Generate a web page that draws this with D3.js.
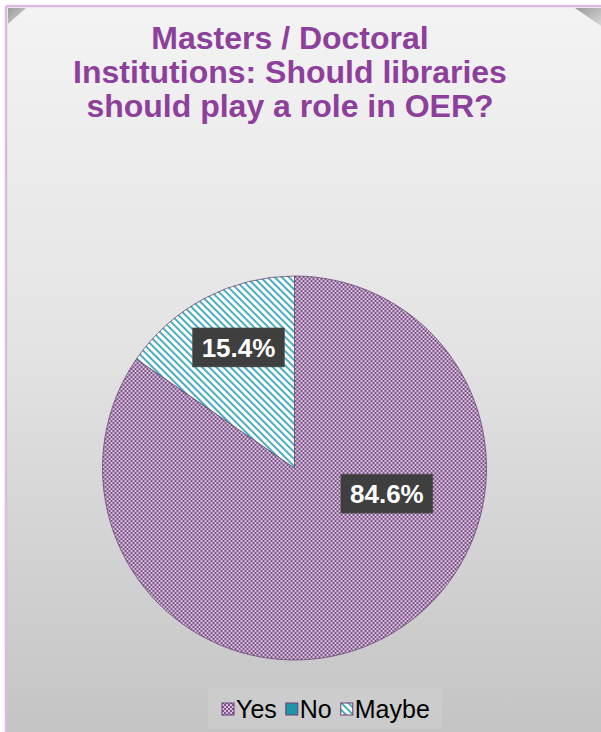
<!DOCTYPE html>
<html>
<head>
<meta charset="utf-8">
<script src="https://cdn.jsdelivr.net/npm/d3@7"></script>
<style>
  body { margin: 0; padding: 0; background: #ffffff; }
  svg { display: block; font-family: Arial, "Liberation Sans", sans-serif; }
</style>
</head>
<body>
<div id="chart"></div>
<script>
// chart data
const categories = ["Yes", "No", "Maybe"];
const shares = [84.6, 0, 15.4];
const titleLines = ["Masters / Doctoral", "Institutions: Should libraries", "should play a role in OER?"];

const W = 601, H = 732;
const svg = d3.select("#chart").append("svg")
    .attr("width", W)
    .attr("height", H);

let defs = svg.append("defs");

// background gradient
let bg = defs.append("linearGradient").attr("id", "bg")
    .attr("x1", 0).attr("y1", 0).attr("x2", 0).attr("y2", 1);
bg.append("stop").attr("offset", "0%").attr("stop-color", "#f3f3f3");
bg.append("stop").attr("offset", "45%").attr("stop-color", "#e4e4e4");
bg.append("stop").attr("offset", "100%").attr("stop-color", "#c4c4c4");

let corner = defs.append("linearGradient").attr("id", "corner")
    .attr("x1", 0).attr("y1", 0).attr("x2", 1).attr("y2", 1);
corner.append("stop").attr("offset", "0%").attr("stop-color", "#9a9a9a");
corner.append("stop").attr("offset", "100%").attr("stop-color", "#d8d8d8");

// Yes: small purple checker
let pYes = defs.append("pattern").attr("id", "pYes")
    .attr("patternUnits", "userSpaceOnUse").attr("width", 4).attr("height", 4);
pYes.append("rect").attr("width", 4).attr("height", 4).attr("fill", "#d6bedb");
pYes.append("rect").attr("width", 2).attr("height", 2).attr("fill", "#7e5689");
pYes.append("rect").attr("x", 2).attr("y", 2).attr("width", 2).attr("height", 2).attr("fill", "#7e5689");

// Maybe: teal diagonal stripes on white
let pMaybe = defs.append("pattern").attr("id", "pMaybe")
    .attr("patternUnits", "userSpaceOnUse").attr("width", 5).attr("height", 5)
    .attr("patternTransform", "rotate(-45)");
pMaybe.append("rect").attr("width", 5).attr("height", 5).attr("fill", "#ffffff");
pMaybe.append("rect").attr("width", 2).attr("height", 5).attr("fill", "#4aaec0");

const fills = {"Yes": "url(#pYes)", "No": "#1f95a8", "Maybe": "url(#pMaybe)"};

// frame
svg.append("rect").attr("x", 0).attr("y", 0).attr("width", W).attr("height", H).attr("fill", "#ffffff");
svg.append("rect").attr("x", 6).attr("y", 6).attr("width", W - 6).attr("height", H - 6)
    .attr("fill", "url(#bg)");
svg.append("path").attr("d", "M6,6H601").attr("stroke", "#dcb9e2").attr("stroke-width", 2.5);
svg.append("path").attr("d", "M6,6V732").attr("stroke", "#dcb9e2").attr("stroke-width", 2.5);
svg.append("path").attr("d", "M8,8L26,8L8,24Z").attr("fill", "url(#corner)");
svg.append("path").attr("d", "M575,8L601,8L601,26Z").attr("fill", "url(#corner)");

// title
svg.append("g").selectAll("text").data(titleLines).enter().append("text")
    .attr("x", 290)
    .attr("y", (d, i) => 49 + i * 34)
    .attr("text-anchor", "middle")
    .style("font-size", "32px")
    .style("font-weight", "bold")
    .attr("fill", "#8d3f9b")
    .text(d => d);

// pie
const cx = 294.5, cy = 468, r = 192;
const slices = categories.map((c, i) => ({name: c, value: shares[i]}));
const pie = d3.pie().sort(null).value(d => d.value);
const arc = d3.arc().innerRadius(0).outerRadius(r);
const arcs = pie(slices);

let g = svg.append("g").attr("transform", "translate(" + cx + "," + cy + ")");
g.selectAll("path").data(arcs.filter(d => d.data.value > 0)).enter().append("path")
    .attr("d", arc)
    .attr("fill", d => fills[d.data.name])
    .attr("stroke", "#6a4675")
    .attr("stroke-width", 0.8);

// labels: Excel "best fit" position, given as angle and radius fraction
const labelPos = {"Yes": {ang: 105.8, rf: 0.5}, "Maybe": {ang: -25, rf: 0.69}};
let lab = g.selectAll("g.lab").data(arcs.filter(d => d.data.value > 0)).enter().append("g")
    .attr("class", "lab")
    .attr("transform", d => {
        let p = labelPos[d.data.name];
        let a = p.ang * Math.PI / 180;
        return "translate(" + (Math.sin(a) * r * p.rf) + "," + (-Math.cos(a) * r * p.rf) + ")";
    });
lab.append("rect")
    .attr("x", -46).attr("y", -20).attr("width", 92).attr("height", 39)
    .attr("fill", "#3f3f3f")
    .attr("stroke", "#555555").attr("stroke-width", 0.5);
lab.append("text")
    .attr("text-anchor", "middle")
    .attr("y", 9)
    .attr("fill", "#ffffff")
    .style("font-size", "26px")
    .style("font-weight", "bold")
    .text(d => d.data.value.toFixed(1) + "%");

// legend
svg.append("rect").attr("x", 208).attr("y", 688).attr("width", 234).attr("height", 41)
    .attr("fill", "#d4d4d4").attr("opacity", 0.4);
let leg = svg.append("g").attr("transform", "translate(222,718)");
let lx = 0;
categories.forEach(c => {
    let item = leg.append("g").attr("transform", "translate(" + lx + ",0)");
    item.append("rect").attr("y", -15).attr("width", 12).attr("height", 12)
        .attr("fill", fills[c])
        .attr("stroke", "#6a3d7a").attr("stroke-width", 1);
    let t = item.append("text").attr("x", 14)
        .style("font-size", "25px")
        .attr("fill", "#000000")
        .text(c);
    lx += 14 + t.node().getComputedTextLength() + 9;
});
</script>
</body>
</html>
